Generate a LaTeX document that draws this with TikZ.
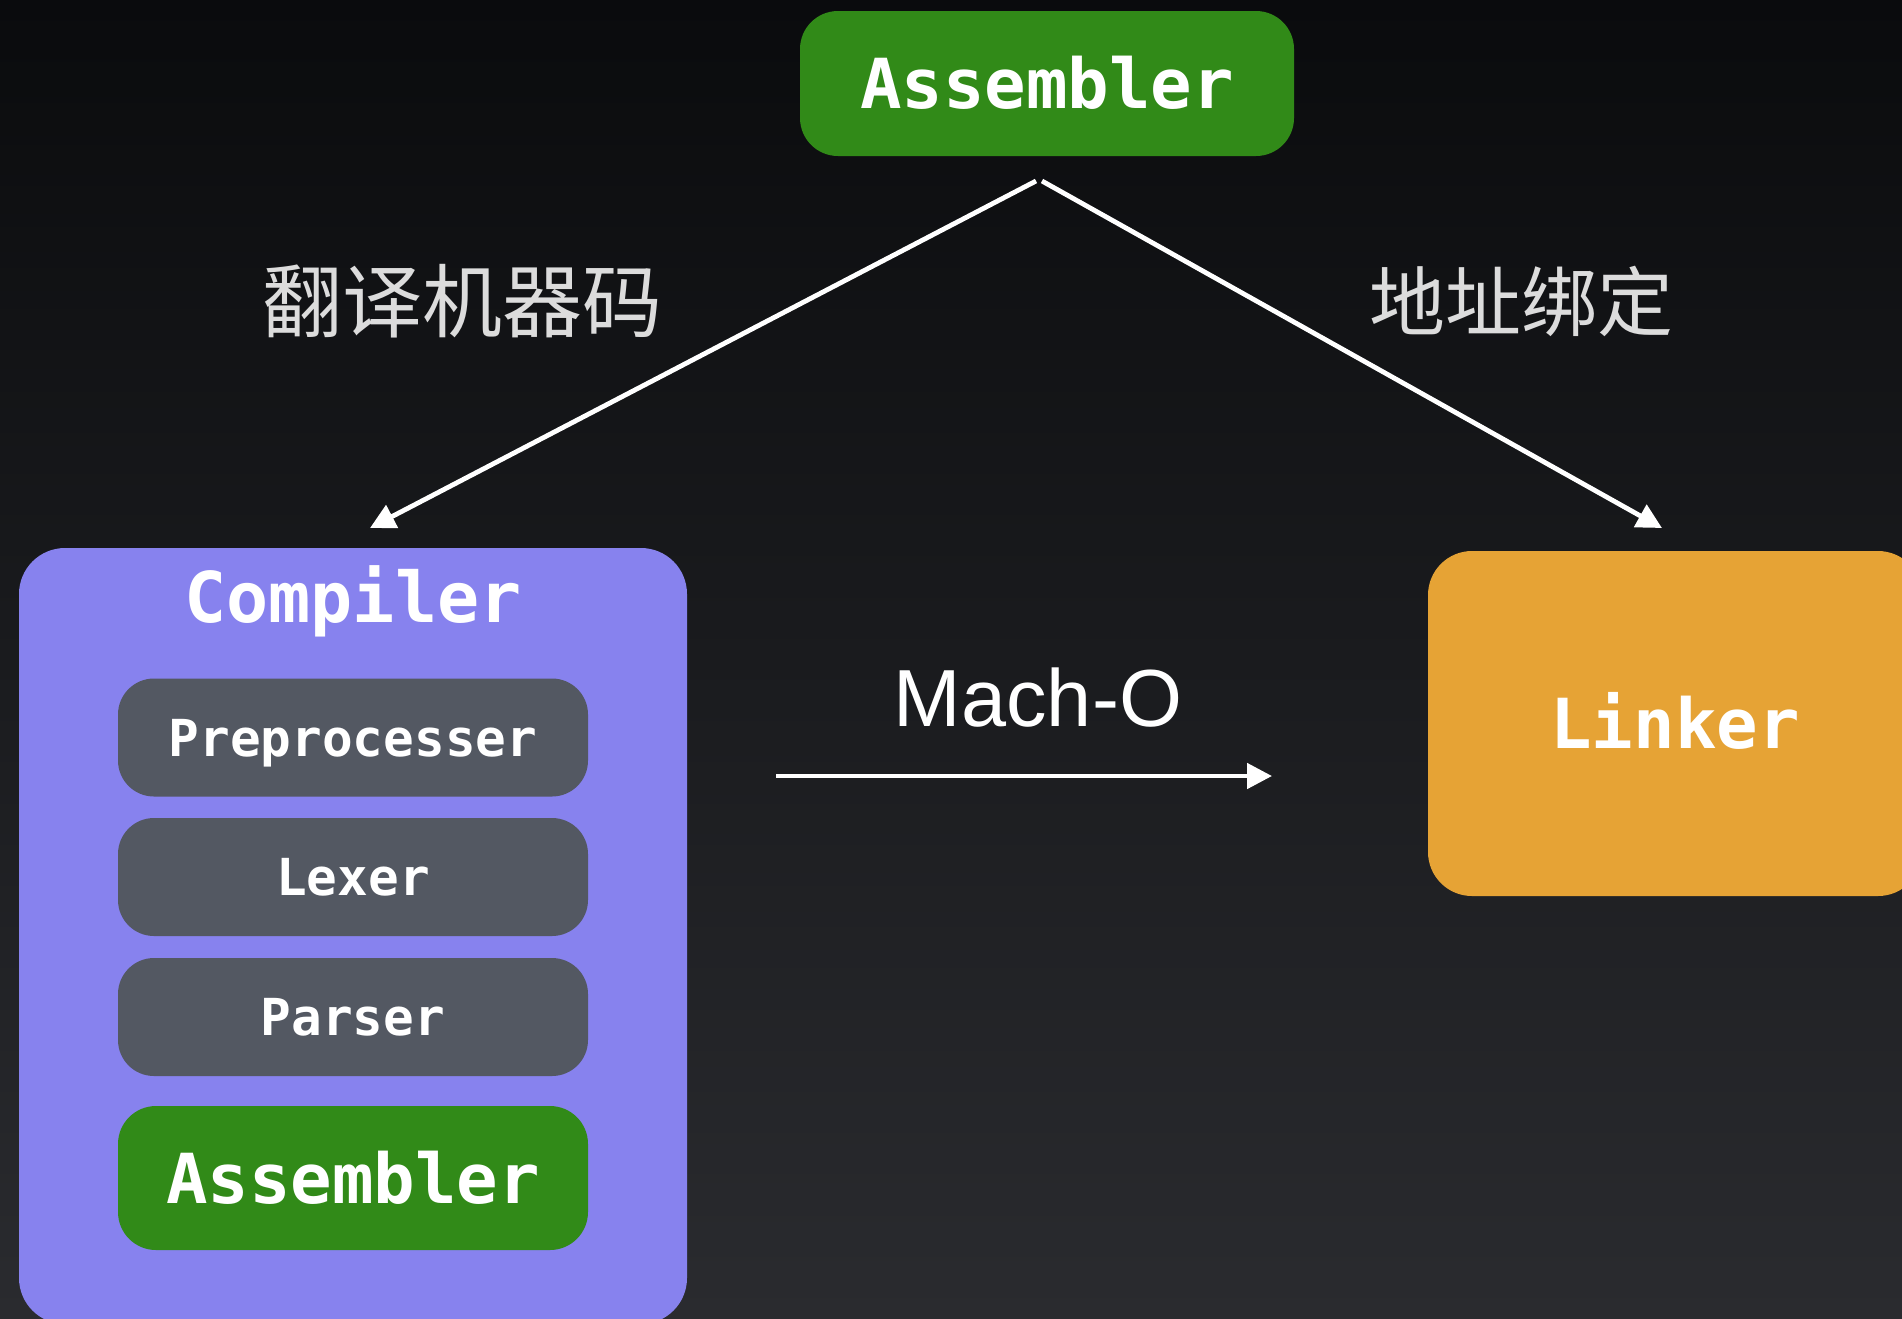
\documentclass[tikz,border=0pt]{standalone}
\usepackage{fontspec}
\setmainfont{Liberation Sans}
\setmonofont{DejaVu Sans Mono}
\newfontfamily\cjk{Noto Sans CJK SC}
\usetikzlibrary{arrows.meta}
\definecolor{bgtop}{HTML}{0A0B0D}
\definecolor{bgbot}{HTML}{2A2B2F}
\definecolor{asmgreen}{HTML}{318A18}
\definecolor{cmppurple}{HTML}{8782EE}
\definecolor{stagegray}{HTML}{535862}
\definecolor{lnkorange}{HTML}{E6A335}
\definecolor{labelgray}{HTML}{DCDCDC}
\tikzset{
  box/.style={rectangle, inner sep=0pt, text=white},
  monolabel/.style={font=\ttfamily\bfseries\fontsize{#1}{#1}\selectfont, text height=0.729*#1 pt, text depth=0pt},
  stagebox/.style={box, fill=stagegray, rounded corners=36pt, minimum width=470pt, minimum height=118pt, monolabel=51},
  greenbox/.style={box, fill=asmgreen, rounded corners=38pt},
  cjklabel/.style={text=labelgray, inner sep=0pt, font=\cjk\fontsize{#1}{#1}\selectfont},
  flow/.style={draw=white, line width=4.8pt, -{Triangle[length=25pt,width=25pt]}}
}
\begin{document}
\begin{tikzpicture}[x=1pt,y=-1pt]
\useasboundingbox (0,0) rectangle (1902,1318);
\clip (0,0) rectangle (1902,1318);
\shade[top color=bgtop, bottom color=bgbot] (0,0) rectangle (1902,1318);

% top assembler
\node[greenbox, minimum width=494pt, minimum height=145pt, monolabel=69] (asmtop) at (1047,83.5) {Assembler};

% compiler container
\node[box, fill=cmppurple, rounded corners=46pt, minimum width=668pt, minimum height=776pt] (compiler) at (353,936) {};
\node[box, monolabel=70] (compilerlabel) at (353,596.5) {Compiler};
\node[stagebox] (pre) at (353,737.5) {Preprocesser};
\node[stagebox] (lex) at (353,877) {Lexer};
\node[stagebox] (par) at (353,1017) {Parser};
\node[greenbox, minimum width=470pt, minimum height=144pt, monolabel=69] (asmin) at (353,1178) {Assembler};

% linker
\node[box, fill=lnkorange, rounded corners=44pt, minimum width=494pt, minimum height=345pt, monolabel=69] (linker) at (1675,723.5) {Linker};

% labels
\node[cjklabel=80] (lbl1) at (462,301) {翻译机器码};
\node[cjklabel=76] (lbl2) at (1521,301) {地址绑定};
\node[text=white, inner sep=0pt, font=\fontsize{81}{81}\selectfont, text height=58pt, text depth=0pt] (macho) at (1038,697.5) {Mach-O};

% connectors
\coordinate (ls) at (1036,181);
\coordinate (le) at (370,528);
\coordinate (rs) at (1042,181);
\coordinate (re) at (1662,528);
\coordinate (ms) at (776,776);
\coordinate (me) at (1272,776);
\draw[flow] (ls) -- (le);
\draw[flow] (rs) -- (re);
\draw[flow] (ms) -- (me);
\end{tikzpicture}
\end{document}
